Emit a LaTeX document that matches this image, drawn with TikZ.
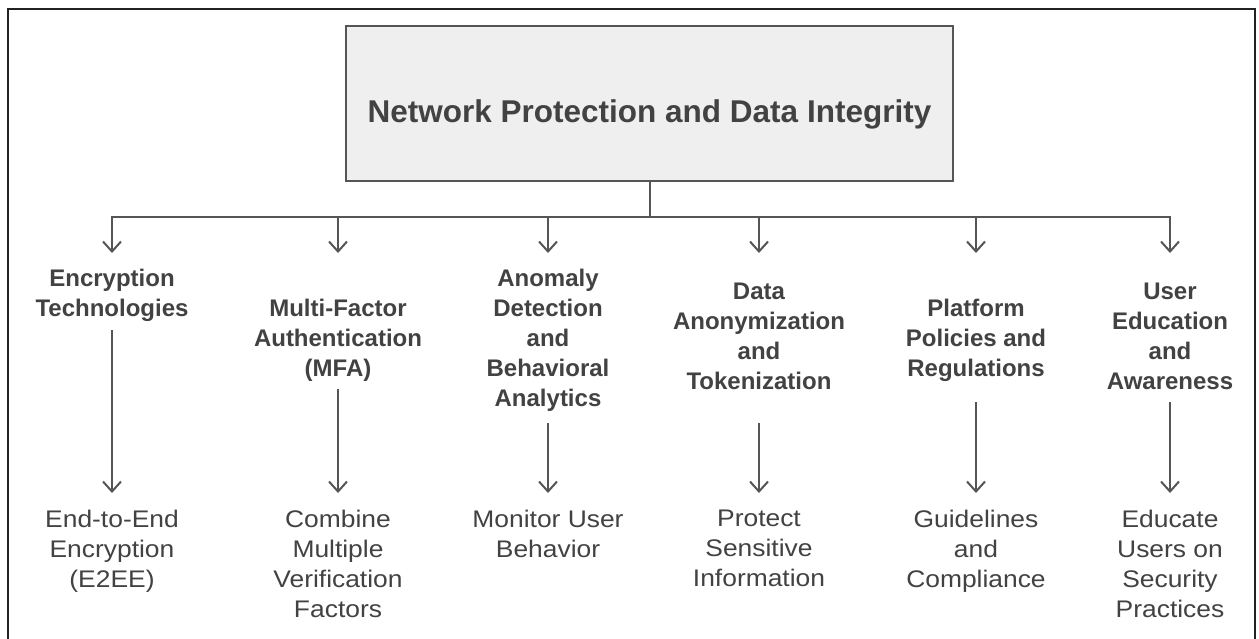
\documentclass[tikz,border=0pt]{standalone}
\usepackage{fontspec}
\setmainfont{Liberation Sans}
\newfontfamily\leaffont{Liberation Sans}[FakeStretch=1.1]
\usetikzlibrary{arrows.meta}
\definecolor{linegray}{HTML}{555555}
\definecolor{textgray}{HTML}{424242}
\definecolor{boxfill}{HTML}{EFEFEF}
\definecolor{framecol}{HTML}{222222}
\begin{document}
\begin{tikzpicture}[x=1pt,y=-1pt,
  conn/.style={draw=linegray, line width=2pt, -{Straight Barb[length=10pt,width=18pt]}},
  titlebox/.style={draw=linegray, line width=1.6pt, fill=boxfill, minimum width=607pt, minimum height=155pt, inner sep=0pt},
  titletext/.style={text=textgray, font=\bfseries\fontsize{31.5}{36}\selectfont, inner sep=0pt, anchor=base},
  cat/.style={text=textgray, font=\bfseries\fontsize{24}{30}\selectfont, align=center, inner sep=0pt, anchor=north},
  leaf/.style={text=textgray, font=\leaffont\fontsize{24}{30}\selectfont, align=center, inner sep=0pt, anchor=north},
  lower/.style={conn, shorten >=17pt}
]
\clip (0,0) rectangle (1259,639);
\fill[white] (0,0) rectangle (1259,639);
\draw[line width=2pt, draw=framecol] (8,9) rectangle (1255,660);

\node[titlebox] (title) at (649.5,103.5) {};
\node[titletext] (titlelabel) at (649.5,123) {Network Protection and Data Integrity};

\coordinate (busline) at (0,217);
\coordinate (tipline) at (0,253);

% categories (north = first baseline - cap height)
\node[cat] (enc)  at (112,269)  {Encryption\\Technologies};
\node[cat] (mfa)  at (338,299)  {Multi-Factor\\Authentication\\(MFA)};
\node[cat] (anom) at (548,269)  {Anomaly\\Detection\\and\\Behavioral\\Analytics};
\node[cat] (anon) at (759,283)  {Data\\Anonymization\\and\\Tokenization};
\node[cat] (plat) at (976,299)  {Platform\\Policies and\\Regulations};
\node[cat] (edu)  at (1170,283) {User\\Education\\and\\Awareness};

% leaves
\node[leaf] (e2e)  at (112,510)  {End-to-End\\Encryption\\(E2EE)};
\node[leaf] (comb) at (338,510)  {Combine\\Multiple\\Verification\\Factors};
\node[leaf] (mon)  at (548,510)  {Monitor User\\Behavior};
\node[leaf] (prot) at (759,510)  {Protect\\Sensitive\\Information};
\node[leaf] (guid) at (976,510)  {Guidelines\\and\\Compliance};
\node[leaf] (educ) at (1170,510) {Educate\\Users on\\Security\\Practices};

% tree connectors
\foreach \n in {enc,mfa,anom,anon,plat,edu}{
  \draw[conn] (title.south) -- (title.south |- busline) -| (\n.north |- tipline);
}

% lower connectors
\draw[lower] (enc.south |- 0,330)  -- (e2e.north);
\draw[lower] (mfa.south |- 0,389)  -- (comb.north);
\draw[lower] (anom.south |- 0,423) -- (mon.north);
\draw[lower] (anon.south |- 0,423) -- (prot.north);
\draw[lower] (plat.south |- 0,402) -- (guid.north);
\draw[lower] (edu.south |- 0,402)  -- (educ.north);
\end{tikzpicture}
\end{document}
